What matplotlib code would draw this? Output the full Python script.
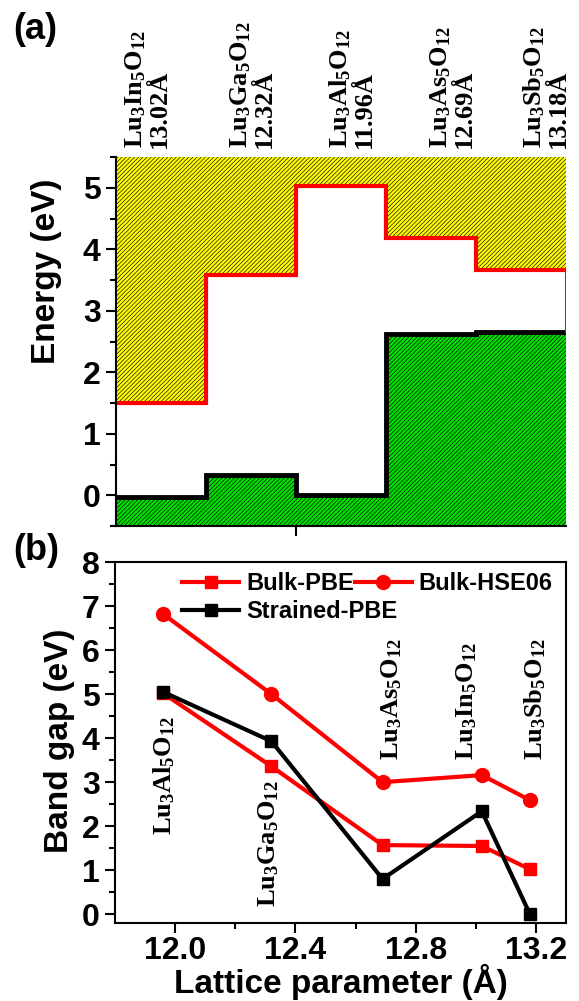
import numpy as np
import matplotlib
matplotlib.use('Agg')
import matplotlib.pyplot as plt

plt.rcParams['font.family'] = ['Liberation Sans', 'DejaVu Sans']
plt.rcParams['font.weight'] = 'bold'
plt.rcParams['mathtext.fontset'] = 'custom'
plt.rcParams['mathtext.rm'] = 'Liberation Serif:bold'
plt.rcParams['mathtext.it'] = 'Liberation Serif:bold:italic'
plt.rcParams['mathtext.bf'] = 'Liberation Serif:bold'
plt.rcParams['hatch.color'] = 'black'
plt.rcParams['hatch.linewidth'] = 0.45

# panel (a): band edges per compound (column order as in the figure)
a_names = ['Lu$_3$In$_5$O$_{12}$', 'Lu$_3$Ga$_5$O$_{12}$', 'Lu$_3$Al$_5$O$_{12}$',
           'Lu$_3$As$_5$O$_{12}$', 'Lu$_3$Sb$_5$O$_{12}$']
a_lattice = ['13.02', '12.32', '11.96', '12.69', '13.18']
a_edges = [11.8, 12.1, 12.4, 12.7, 13.0, 13.3]
cbm = [1.50, 3.58, 5.03, 4.19, 3.67]
vbm = [-0.03, 0.33, 0.00, 2.63, 2.65]
a_label_pos = [0.069, 0.302, 0.524, 0.747, 0.956]

# panel (b): band gaps vs lattice parameter
lattice = [11.96, 12.32, 12.69, 13.02, 13.18]
bulk_pbe = [5.02, 3.36, 1.57, 1.55, 1.02]
bulk_hse = [6.82, 5.00, 3.00, 3.16, 2.59]
strained_pbe = [5.05, 3.93, 0.80, 2.34, 0.00]
b_names = ['Lu$_3$Al$_5$O$_{12}$', 'Lu$_3$Ga$_5$O$_{12}$', 'Lu$_3$As$_5$O$_{12}$',
           'Lu$_3$In$_5$O$_{12}$', 'Lu$_3$Sb$_5$O$_{12}$']
b_label_x = [11.965, 12.31, 12.72, 12.97, 13.196]
b_label_y = [1.8, 0.16, 3.5, 3.5, 3.5]

fig = plt.figure(figsize=(5.79, 10.01), dpi=100)

# ---------- panel (a) ----------
ax1 = fig.add_axes([0.2003, 0.4745, 0.777, 0.3686])
ytop, ybot = 5.5, -0.5
xs = np.repeat(a_edges, 2)[1:-1]
cb = np.repeat(cbm, 2)
vb = np.repeat(vbm, 2)
ax1.fill_between(xs, cb, ytop, facecolor='#ffff00', edgecolor='black',
                 hatch='////////', linewidth=0)
ax1.fill_between(xs, ybot, vb, facecolor='#00e000', edgecolor='black',
                 hatch='////////', linewidth=0)
ax1.plot(xs, cb, color='red', lw=3, solid_joinstyle='miter')
ax1.plot(xs, vb, color='black', lw=3.5, solid_joinstyle='miter')
ax1.plot([a_edges[-1], a_edges[-1]], [vbm[-1], cbm[-1]], color='red', lw=1.5)
ax1.set_xlim(a_edges[0], a_edges[-1])
ax1.set_ylim(ybot, ytop)
ax1.spines['top'].set_visible(False)
ax1.spines['right'].set_visible(False)
for s in ['left', 'bottom']:
    ax1.spines[s].set_linewidth(1.5)
ax1.set_yticks([0, 1, 2, 3, 4, 5])
ax1.set_yticks(np.arange(-0.5, 5.6, 0.5), minor=True)
ax1.set_xticks([12.4])
ax1.set_xticklabels([])
ax1.tick_params(axis='both', which='major', direction='out', length=7, width=1.5,
                labelsize=23, pad=4)
ax1.tick_params(axis='both', which='minor', direction='out', length=4, width=1.5)
ax1.set_ylabel('Energy (eV)', fontsize=24, fontweight='bold')
ax1.yaxis.set_label_coords(-0.12, 0.69)
for i in range(len(a_names)):
    ax1.text(a_label_pos[i], 1.024, a_names[i] + '\n' + a_lattice[i] + 'Å',
             transform=ax1.transAxes, rotation=90, ha='center', va='bottom',
             family='Liberation Serif', fontsize=19, fontweight='bold',
             linespacing=1.0, multialignment='left')

# ---------- panel (b) ----------
ax2 = fig.add_axes([0.1986, 0.0779, 0.779, 0.3606])
l_pbe, = ax2.plot(lattice, bulk_pbe, '-s', color='red', lw=3, ms=9, label='Bulk-PBE')
l_str, = ax2.plot(lattice, strained_pbe, '-s', color='black', lw=3, ms=9,
                  label='Strained-PBE')
l_hse, = ax2.plot(lattice, bulk_hse, '-o', color='red', lw=3, ms=10, label='Bulk-HSE06')
ax2.set_xlim(11.8, 13.3)
ax2.set_ylim(-0.2, 8)
ax2.set_xticks([12.0, 12.4, 12.8, 13.2])
ax2.set_xticks([12.2, 12.6, 13.0], minor=True)
ax2.set_yticks(range(0, 9))
ax2.set_yticks(np.arange(0.5, 8, 1.0), minor=True)
ax2.set_xticklabels(['12.0', '12.4', '12.8', '13.2'])
ax2.tick_params(axis='both', which='major', direction='out', length=7, width=1.5,
                labelsize=23, pad=4)
ax2.tick_params(axis='x', which='major', pad=2)
ax2.tick_params(axis='both', which='minor', direction='out', length=4, width=1.5)
for s in ax2.spines.values():
    s.set_linewidth(1.5)
ax2.set_xlabel('Lattice parameter (Å)', fontsize=24, fontweight='bold', labelpad=-1)
ax2.set_ylabel('Band gap (eV)', fontsize=24, fontweight='bold')
ax2.yaxis.set_label_coords(-0.089, 0.504)
for i in range(len(b_names)):
    ax2.text(b_label_x[i], b_label_y[i], b_names[i], rotation=90, ha='center',
             va='bottom', family='Liberation Serif', fontsize=19, fontweight='bold')

leg_kw = dict(frameon=False, fontsize=17, handlelength=2.4, handletextpad=0.3,
              borderpad=0, borderaxespad=0, loc='upper left')
leg1 = ax2.legend([l_pbe, l_hse], ['Bulk-PBE', 'Bulk-HSE06'], ncol=2,
                  columnspacing=0.05, bbox_to_anchor=(0.149, 0.972), **leg_kw)
ax2.add_artist(leg1)
ax2.legend([l_str], ['Strained-PBE'], bbox_to_anchor=(0.149, 0.895), **leg_kw)

fig.text(13 / 579, 1 - 12 / 1001, '(a)', fontsize=26, fontweight='bold', va='top')
fig.text(13 / 579, 1 - 533 / 1001, '(b)', fontsize=26, fontweight='bold', va='top')

fig.savefig('out.png', dpi=100)
